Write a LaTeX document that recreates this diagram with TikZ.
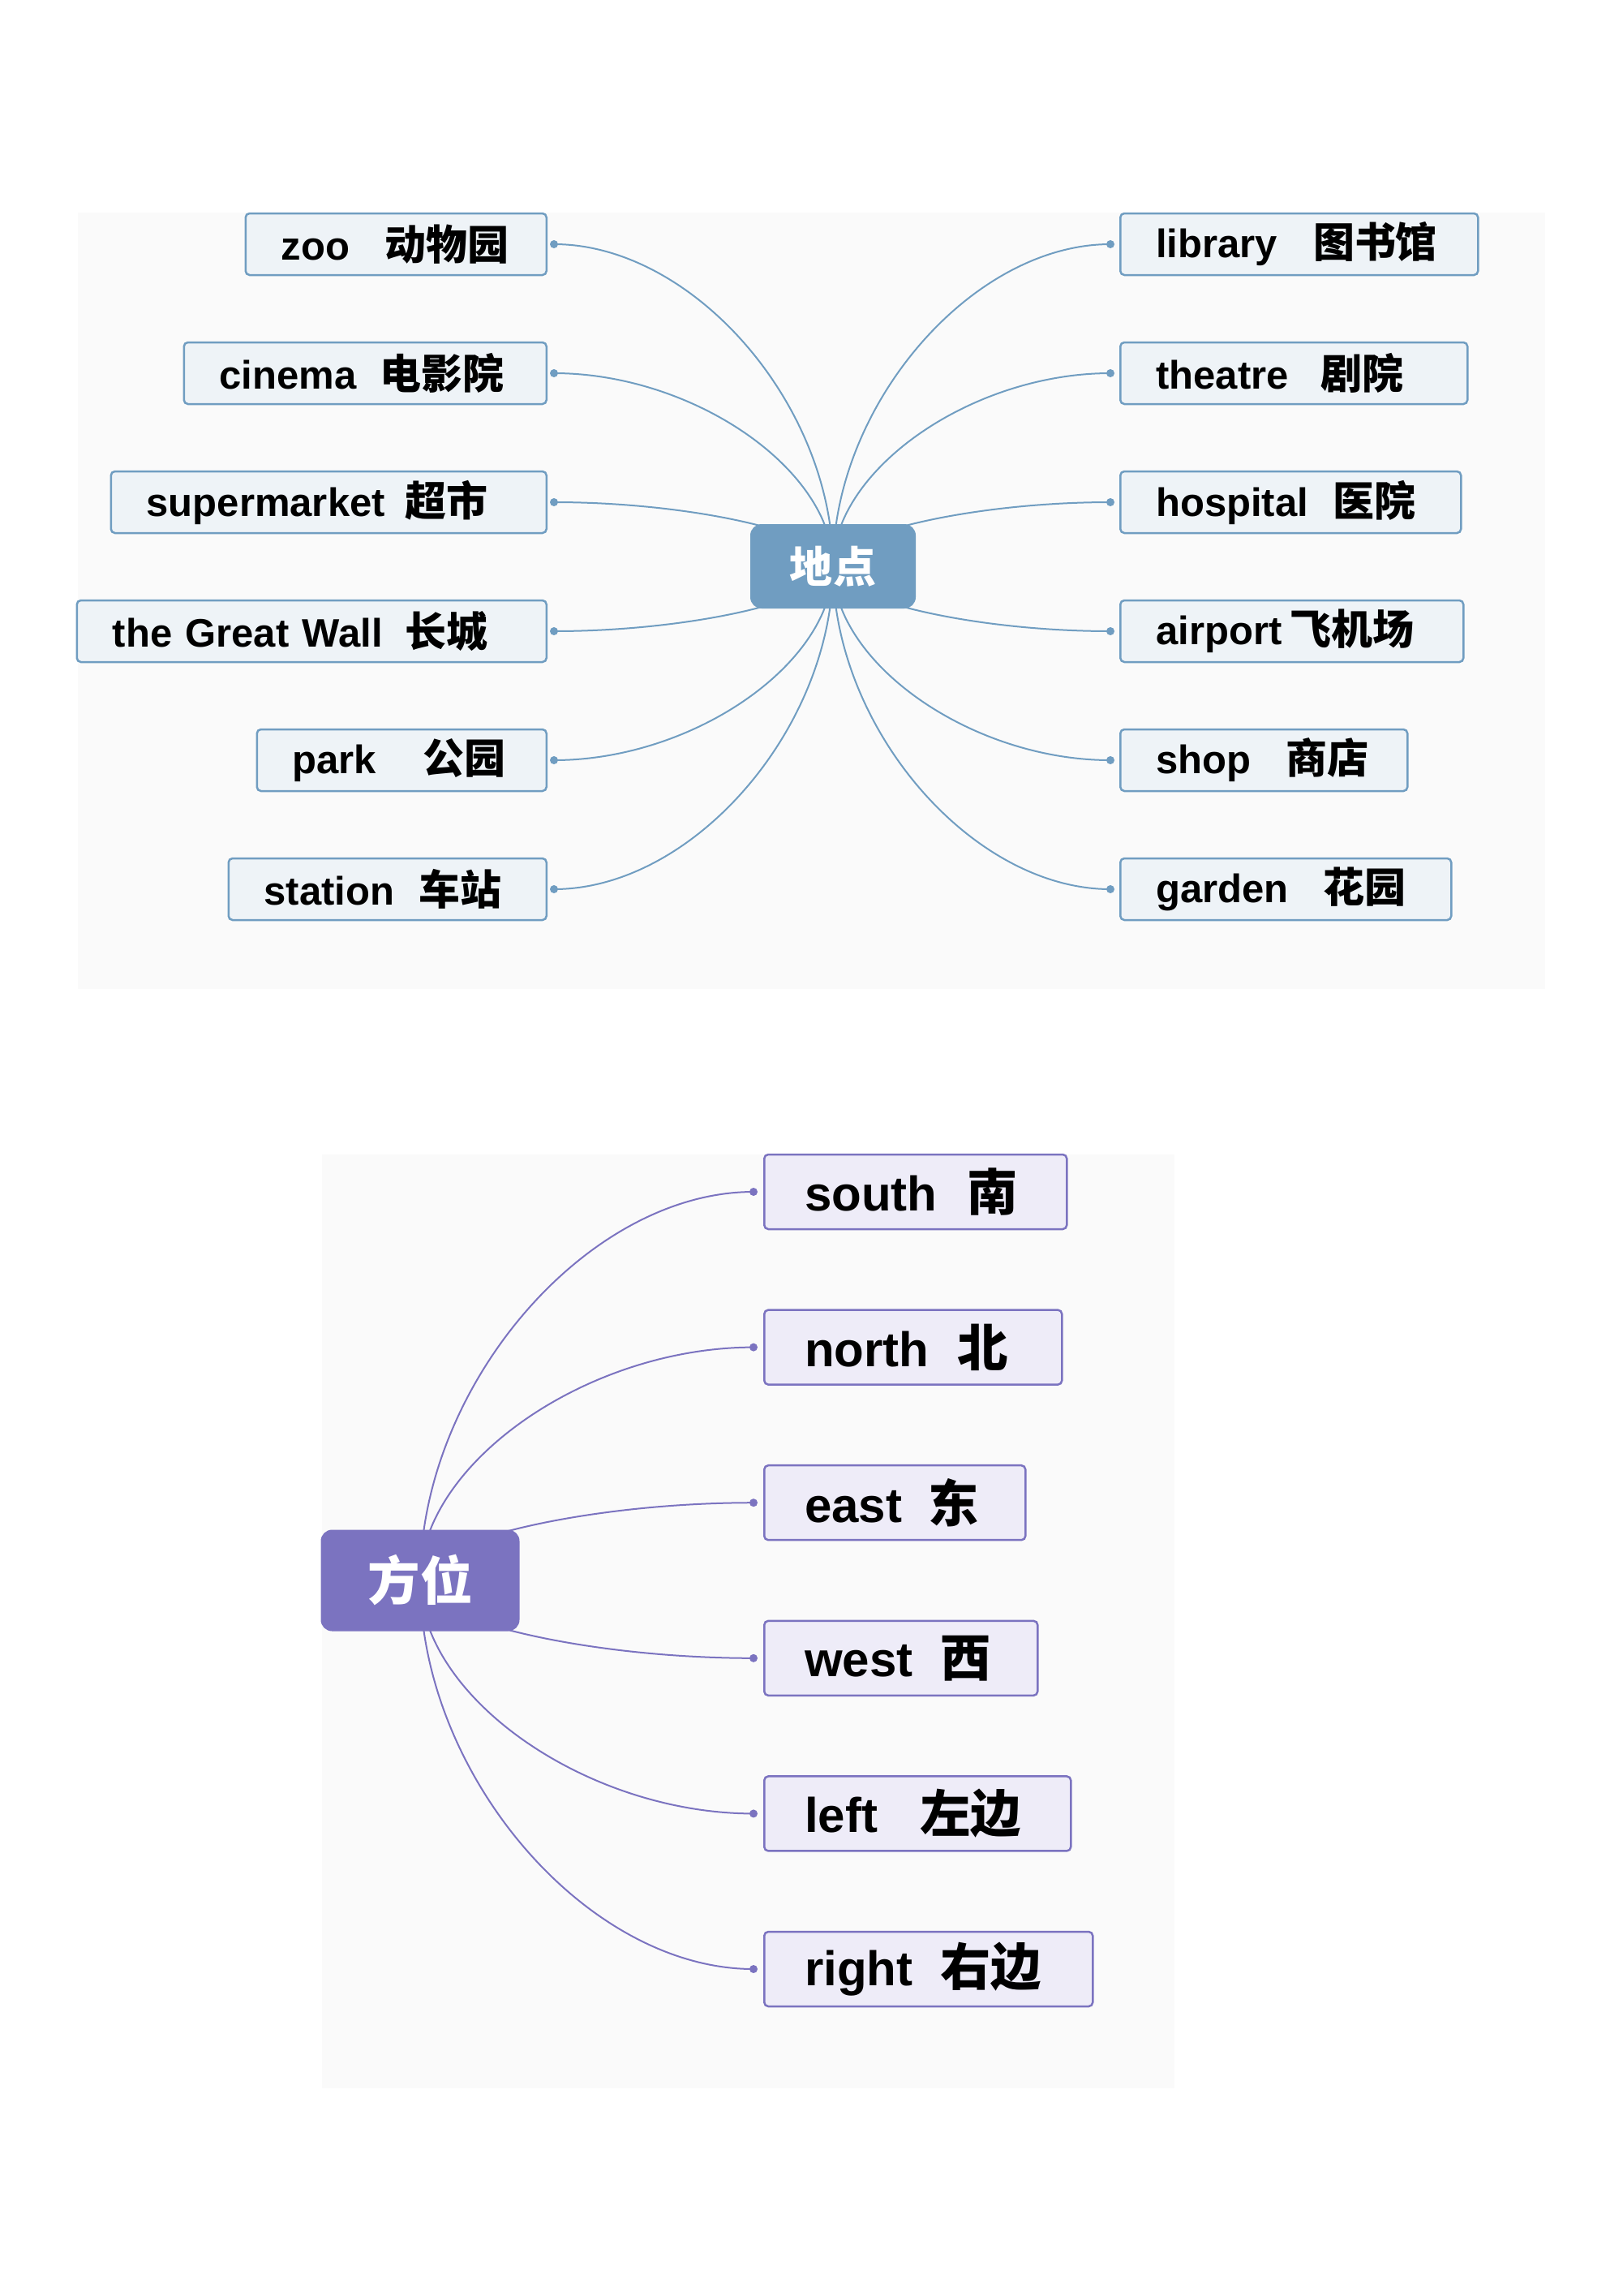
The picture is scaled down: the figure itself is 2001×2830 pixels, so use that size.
\documentclass[tikz,border=0pt]{standalone}
\usepackage{fontspec}
\setmainfont{Liberation Sans}
\newfontfamily\cjk{Noto Sans CJK SC}[Scale=1.04]
\usetikzlibrary{backgrounds, calc, positioning}
\definecolor{panelgrey}{HTML}{FAFAFA}
\definecolor{placesteel}{HTML}{709DC1}
\definecolor{placepale}{HTML}{EEF3F7}
\definecolor{dirpurple}{HTML}{7B73C0}
\definecolor{dirpale}{HTML}{EEECF8}
\tikzset{
  panel/.style = {fill=panelgrey},
  topic/.style = {rounded corners=14pt, text=white, inner sep=0pt},
  leaf/.style = {draw, line width=2.5pt, rounded corners=5pt, inner ysep=0pt,
                 align=left},
  place/.style = {leaf, draw=placesteel, fill=placepale, inner xsep=44pt,
                  minimum height=76pt,
                  font=\fontsize{49pt}{56pt}\selectfont\bfseries},
  direction/.style = {leaf, draw=dirpurple, fill=dirpale, inner xsep=50pt,
                      minimum height=92pt,
                      font=\fontsize{60pt}{68pt}\selectfont\bfseries},
  branch/.style = {line width=2pt},
}
\newcommand{\entry}[3]{\mbox{#1\hspace{#2pt}{\cjk #3}}}
\newcommand{\hubcurve}[3]{%
  %% Curve from a central topic to the dot of one leaf
  %%    1. Colour   2. Topic node   3. Dot coordinate
  \begin{pgfonlayer}{background}
    \draw [branch, #1] (#2.center)
      .. controls ($(#2.center)!0.5!(#2.center |- #3)$)
      and ($(#3)!0.5!(#2.center |- #3)$) .. (#3);
  \end{pgfonlayer}
  \fill [#1] (#3) circle (5pt);
}

\begin{document}
\begin{tikzpicture}[x=1pt, y=-1pt]
  \useasboundingbox (0,0) rectangle (2001,2830);

  %% Page and the two panels
  \begin{pgfonlayer}{background}
    \fill [white] (0,0) rectangle (2001,2830);
    \fill [panel] (96,262) rectangle (1905,1219);
    \fill [panel] (397,1423) rectangle (1448,2574);
  \end{pgfonlayer}

  %% Places: central topic with a column of leaves on each side
  \node [topic, fill=placesteel, minimum width=204pt, minimum height=104pt,
         font=\fontsize{51pt}{58pt}\selectfont\bfseries] (places) at (1027,698) {\cjk 地点};
  \foreach \name/\en/\gap/\cn/\w [count=\i from 0] in {
      zoo/zoo/43/动物园/371, cinema/cinema/29/电影院/447,
      supermarket/supermarket/25/超市/537, wall/the Great Wall/28/长城/579,
      park/park/57/公园/357, station/station/30/车站/392}{
    \pgfmathsetmacro{\tw}{\w - 88}
    \node [place, anchor=east, text width=\tw pt] (place_\name)
          at (675, {301 + 159*\i}) {\entry{\en}{\gap}{\cn}};
    \coordinate [right=8pt of place_\name.east] (place_\name_dot);
    \hubcurve{placesteel}{places}{place_\name_dot}
  }
  \foreach \name/\en/\gap/\cn/\w [count=\i from 0] in {
      library/library/44/图书馆/441, theatre/theatre/40/剧院/428,
      hospital/hospital/30/医院/420, airport/airport/10/飞机场/423,
      shop/shop/43/商店/354, garden/garden/43/花园/408}{
    \pgfmathsetmacro{\tw}{\w - 88}
    \node [place, anchor=west, text width=\tw pt] (place_\name)
          at (1380, {301 + 159*\i}) {\entry{\en}{\gap}{\cn}};
    \coordinate [left=11pt of place_\name.west] (place_\name_dot);
    \hubcurve{placesteel}{places}{place_\name_dot}
  }

  %% Directions: central topic with one column of leaves
  \node [topic, fill=dirpurple, minimum width=245pt, minimum height=125pt,
         font=\fontsize{62pt}{70pt}\selectfont\bfseries] (directions) at (518,1948) {\cjk 方位};
  \foreach \name/\en/\gap/\cn/\w [count=\i from 0] in {
      south/south/37/南/373, north/north/35/北/367, east/east/32/东/322,
      west/west/34/西/337, left/left/52/左边/378, right/right/34/右边/405}{
    \pgfmathsetmacro{\tw}{\w - 100}
    \node [direction, anchor=west, text width=\tw pt] (dir_\name)
          at (941, {1469 + 191.6*\i}) {\entry{\en}{\gap}{\cn}};
    \coordinate [left=12pt of dir_\name.west] (dir_\name_dot);
    \hubcurve{dirpurple}{directions}{dir_\name_dot}
  }
\end{tikzpicture}
\end{document}
